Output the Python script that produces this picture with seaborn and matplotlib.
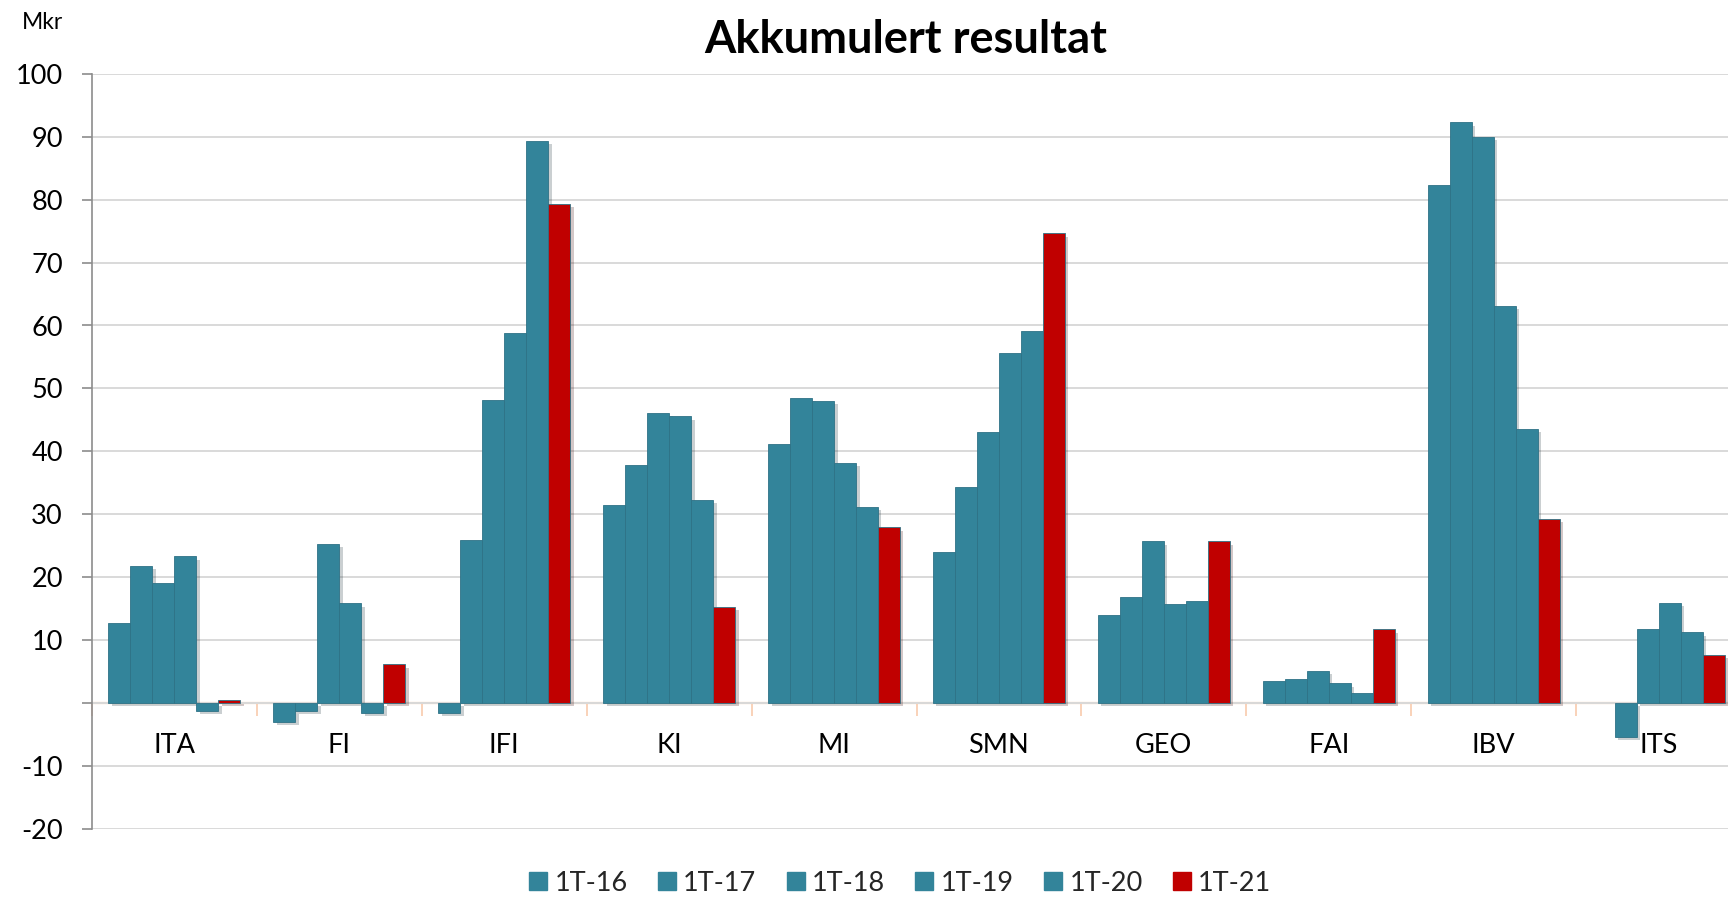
import numpy as np
import pandas as pd
import matplotlib
matplotlib.use("Agg")
import matplotlib.pyplot as plt
import matplotlib.patheffects as pe
from matplotlib.lines import Line2D
from matplotlib.ticker import FixedLocator, FixedFormatter
import seaborn as sns

categories = ["ITA", "FI", "IFI", "KI", "MI", "SMN", "GEO", "FAI", "IBV", "ITS"]
periods = ["1T-16", "1T-17", "1T-18", "1T-19", "1T-20", "1T-21"]
v_1t16 = [12.7, -3.0, -1.6, 31.5, 41.1, 23.9, 14.0, 3.5, 82.3, np.nan]
v_1t17 = [21.8, -1.3, 25.9, 37.8, 48.5, 34.3, 16.8, 3.7, 92.3, -5.4]
v_1t18 = [19.1, 25.3, 48.2, 46.1, 48.0, 43.1, 25.7, 5.1, 90.0, 11.7]
v_1t19 = [23.3, 15.8, 58.8, 45.6, 38.2, 55.7, 15.7, 3.1, 63.1, 15.9]
v_1t20 = [-1.3, -1.6, 89.4, 32.3, 31.2, 59.2, 16.2, 1.5, 43.6, 11.2]
v_1t21 = [0.4, 6.1, 79.4, 15.3, 27.9, 74.7, 25.7, 11.7, 29.3, 7.6]
yticks = [-20, -10, 0, 10, 20, 30, 40, 50, 60, 70, 80, 90, 100]
ytick_labels = ["-20", "-10", "", "10", "20", "30", "40", "50", "60", "70", "80", "90", "100"]

series = [v_1t16, v_1t17, v_1t18, v_1t19, v_1t20, v_1t21]
rows = []
for p, vals in zip(periods, series):
    for c, v in zip(categories, vals):
        rows.append({"Enhet": c, "Periode": p, "Mkr": v})
df = pd.DataFrame(rows)

TEAL = "#33849A"
RED = "#C00000"
palette = {p: TEAL for p in periods[:-1]}
palette[periods[-1]] = RED

sns.set_theme(style="white")
plt.rcParams["font.family"] = ["Lato", "DejaVu Sans"]

W, H = 1728, 897
fig = plt.figure(figsize=(W / 100, H / 100), dpi=100)
x0, x1, ytop, ybot = 92, 1741, 74, 828.5
ax = fig.add_axes([x0 / W, (H - ybot) / H, (x1 - x0) / W, (ybot - ytop) / H])

sns.barplot(data=df, x="Enhet", y="Mkr", hue="Periode", order=categories,
            hue_order=periods, palette=palette, width=0.8, ax=ax,
            errorbar=None, legend=False, edgecolor="#2E7286", linewidth=0.6,
            saturation=1)

for patch in ax.patches:
    patch.set_path_effects([pe.SimplePatchShadow(offset=(2.5, -2.5), alpha=0.22),
                            pe.Normal()])

ax.set_xlim(-0.5, 9.5)
ax.set_ylim(-20, 100)
ax.set_xlabel("")
ax.set_ylabel("")

ax.yaxis.set_major_locator(FixedLocator(yticks))
ax.yaxis.set_major_formatter(FixedFormatter(ytick_labels))
ax.grid(axis="y", color="#D9D9D9", linewidth=1.4)
ax.set_axisbelow(True)

for s in ["top", "right"]:
    ax.spines[s].set_visible(False)
ax.spines["left"].set_color("#8C8C8C")
ax.spines["left"].set_linewidth(1.2)
ax.spines["bottom"].set_position(("data", 0))
ax.spines["bottom"].set_color("#F8CBAD")
ax.spines["bottom"].set_linewidth(1.6)
ax.spines["bottom"].set_zorder(0.5)

ax.tick_params(axis="y", which="major", direction="out", length=7, width=1.2,
               color="#8C8C8C", left=True, labelsize=19.5, pad=14, labelcolor="#000000")
ax.set_xticks(range(len(categories)))
ax.set_xticklabels(categories)
ax.set_xticks(np.arange(-0.5, 10.0, 1.0), minor=True)
ax.tick_params(axis="x", which="major", length=0, labelsize=19.5, pad=22, labelcolor="#000000")
ax.tick_params(axis="x", which="minor", direction="out", length=9, width=1.2,
               color="#F8CBAD", bottom=True)

fig.text(906 / W, 1 - 53 / H, "Akkumulert resultat", ha="center", va="baseline",
         fontsize=32.5, fontweight="bold", color="#000000")
fig.text(22 / W, 1 - 29 / H, "Mkr", ha="left", va="baseline", fontsize=16.5, color="#000000")

handles = [Line2D([], [], linestyle="none", marker="s", markersize=12.5,
                  markerfacecolor=palette[p], markeredgecolor=palette[p]) for p in periods]
fig.legend(handles, periods, loc="center", bbox_to_anchor=(898 / W, 1 - 883 / H),
           ncol=6, frameon=False, fontsize=19.5, handletextpad=0.1, columnspacing=0.95,
           handlelength=1.0)

fig.savefig("out.png", dpi=100)
